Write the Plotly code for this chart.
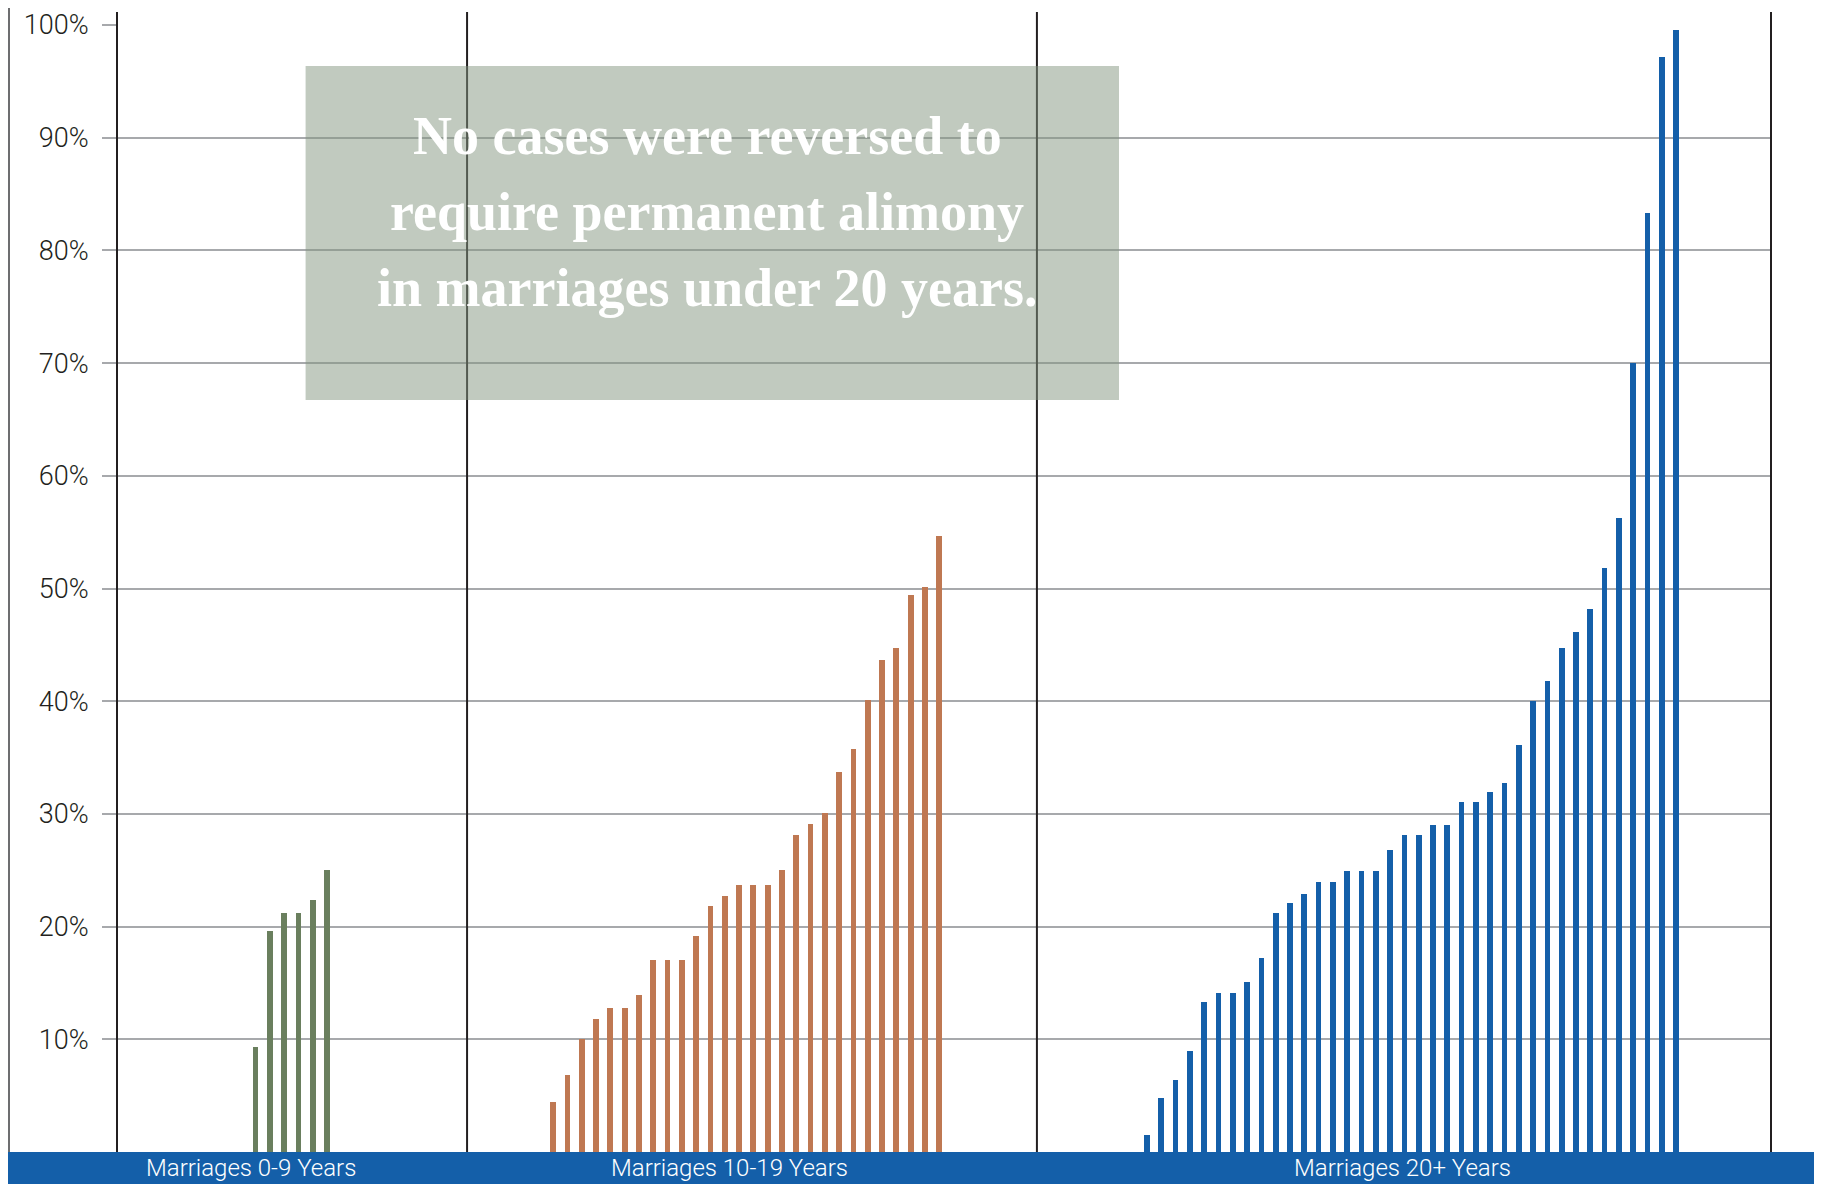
import plotly.graph_objects as go

# ---------------- data ----------------
group_labels = ["Marriages 0-9 Years", "Marriages 10-19 Years", "Marriages 20+ Years"]
vals_0_9 = [9.3, 19.6, 21.2, 21.2, 22.4, 25.0]
vals_10_19 = [4.4, 6.8, 10.0, 11.8, 12.8, 12.8, 13.9, 17.0, 17.0, 17.0, 19.2, 21.8, 22.7, 23.7,
              23.7, 23.7, 25.0, 28.1, 29.1, 30.1, 33.7, 35.8, 40.1, 43.7, 44.7, 49.4, 50.1, 54.7]
vals_20_plus = [1.5, 4.8, 6.4, 9.0, 13.3, 14.1, 14.1, 15.1, 17.2, 21.2, 22.1, 22.9, 24.0, 24.0,
                24.9, 24.9, 24.9, 26.8, 28.1, 28.1, 29.0, 29.0, 31.1, 31.1, 31.9, 32.7, 36.1, 40.0,
                41.8, 44.7, 46.1, 48.2, 51.8, 56.3, 70.0, 83.3, 97.2, 99.6]
tick_vals = [10, 20, 30, 40, 50, 60, 70, 80, 90, 100]
tick_text = ["10%", "20%", "30%", "40%", "50%", "60%", "70%", "80%", "90%", "100%"]
note_lines = ["No cases were reversed to", "require permanent alimony", "in marriages under 20 years."]

# ---------------- layout constants ----------------
OFF = 8                      # page body margin offset
W, H = 1822 - OFF, 1184 - OFF
M_L, M_R, M_T, M_B = 117 - OFF, 51, 25 - OFF, 32
SLOT = 14.3
PW = W - M_L - M_R
plot_h = H - M_T - M_B
XMAX = PW / SLOT
group_starts = [9.69, 30.5, 72.03]
group_colors = ["#6a7f5e", "#bf7852", "#145fa9"]
label_centers = [9.37, 42.8, 89.9]
dividers = [0, 24.48, 64.33, XMAX]
BAR_W = 0.4


def px_x(page_x):
    """page pixel x -> paper fraction"""
    return (page_x - OFF - M_L) / PW


def px_y(page_y):
    """page pixel y -> paper fraction"""
    return (H - M_B - (page_y - OFF)) / plot_h


fig = go.Figure()
for vals, start, col in zip([vals_0_9, vals_10_19, vals_20_plus], group_starts, group_colors):
    fig.add_trace(go.Bar(
        x=[start + i for i in range(len(vals))], y=vals, width=BAR_W,
        marker=dict(color=col, line=dict(width=0)), showlegend=False,
        hoverinfo="y"))

shapes = []
# vertical dividers
for d in dividers:
    shapes.append(dict(type="line", xref="paper", yref="paper",
                       x0=d / XMAX, x1=d / XMAX, y0=0, y1=px_y(12),
                       line=dict(color="#231f20", width=2), layer="above"))
# note box (semi-transparent so the grid shows through darker)
shapes.append(dict(type="rect", xref="paper", yref="paper",
                   x0=px_x(305.6), x1=px_x(1119), y0=px_y(400), y1=px_y(66),
                   fillcolor="rgb(131,149,127)", opacity=0.5, line=dict(width=0), layer="above"))
# bottom band
shapes.append(dict(type="rect", xref="paper", yref="paper",
                   x0=px_x(OFF), x1=px_x(1821), y0=px_y(1185), y1=0,
                   fillcolor="#145fa9", line=dict(width=0), layer="above"))
# outer frame lines
for fx in [OFF + 1, 1820]:
    shapes.append(dict(type="line", xref="paper", yref="paper",
                       x0=px_x(fx), x1=px_x(fx), y0=px_y(1152), y1=px_y(OFF - 2),
                       line=dict(color="#6d6e70", width=2), layer="above"))

annotations = []
for lab, cx in zip(group_labels, label_centers):
    annotations.append(dict(text=lab, xref="x", yref="paper", x=cx,
                            y=px_y(1168), yanchor="middle", xanchor="center",
                            showarrow=False,
                            font=dict(family="Roboto", size=24, color="white", weight=300)))
line_centers_px = [136, 212, 288]
for txt, cy in zip(note_lines, line_centers_px):
    annotations.append(dict(text=txt, xref="paper", yref="paper",
                            x=px_x(707), y=px_y(cy),
                            xanchor="center", yanchor="middle", showarrow=False,
                            font=dict(family="Liberation Serif", size=54, color="white", weight="bold")))

fig.update_layout(
    width=W, height=H,
    margin=dict(l=M_L, r=M_R, t=M_T, b=M_B, pad=0, autoexpand=False),
    paper_bgcolor="white", plot_bgcolor="white",
    bargap=0,
    shapes=shapes, annotations=annotations,
    xaxis=dict(range=[0, XMAX], showgrid=False, zeroline=False, showticklabels=False,
               ticks="", showline=False, fixedrange=True, automargin=False),
    yaxis=dict(range=[0, 100], tickvals=tick_vals, ticktext=tick_text,
               showgrid=True, gridcolor="#a7a9ac", gridwidth=2,
               zeroline=False, showline=False,
               ticks="outside", ticklen=14, tickcolor="#a7a9ac", tickwidth=2,
               ticklabelstandoff=8, automargin=False,
               tickfont=dict(family="Roboto", size=27, color="#231f20", weight=300),
               fixedrange=True),
)

fig.write_html("out.html")
